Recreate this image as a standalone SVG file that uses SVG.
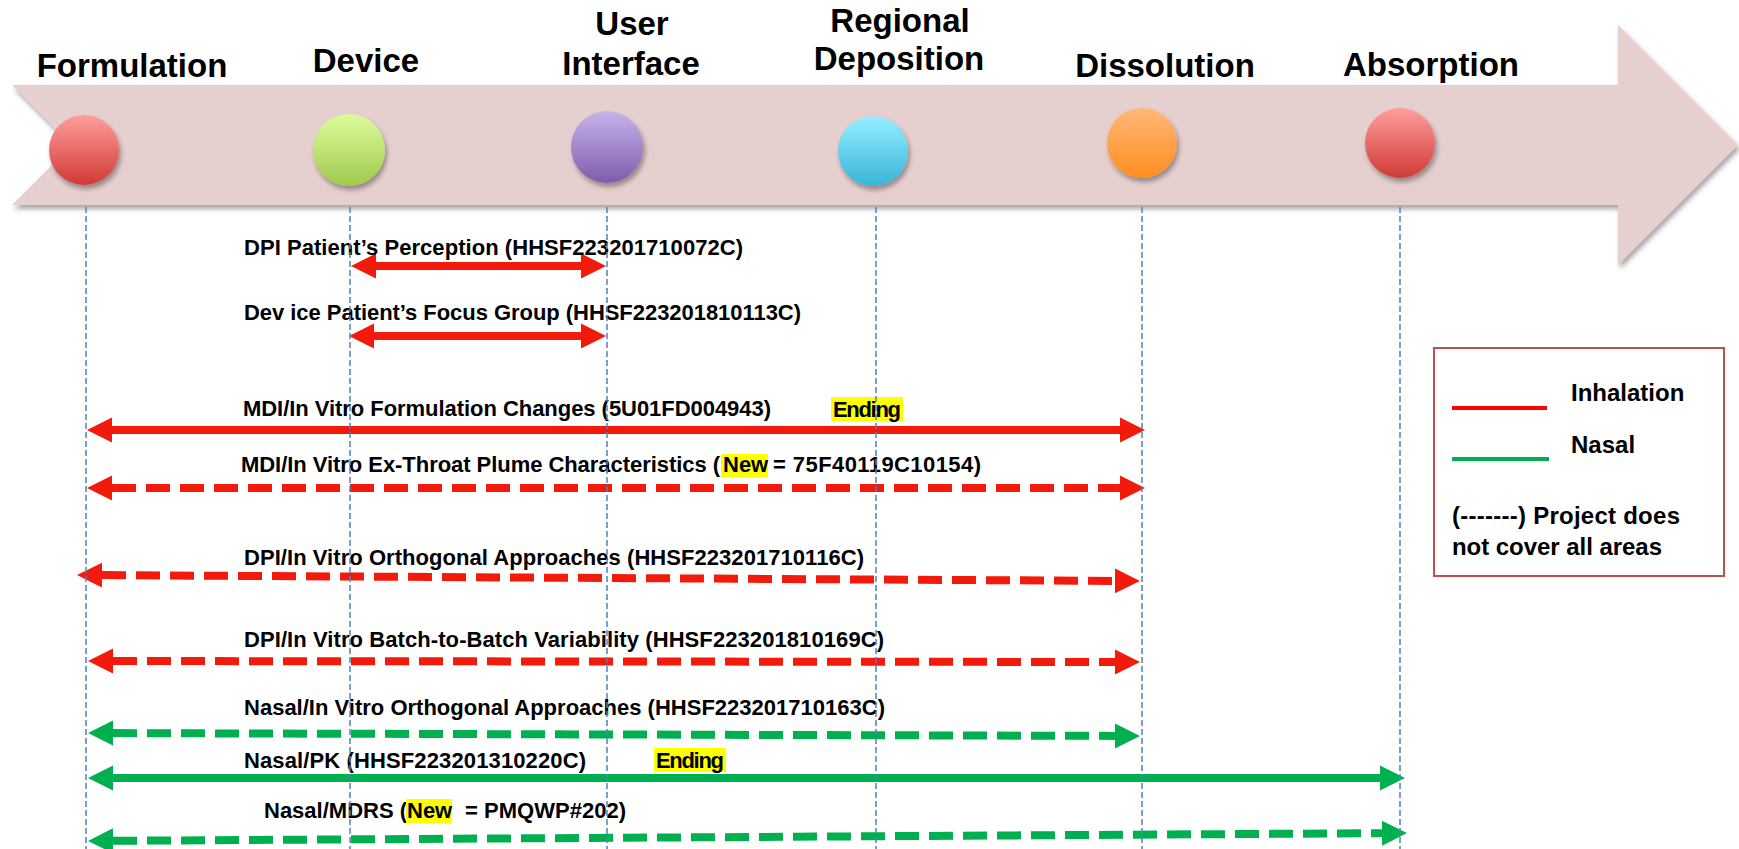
<svg xmlns="http://www.w3.org/2000/svg" width="1739" height="849" viewBox="0 0 1739 849">
<style>
.lbl{font-family:"Liberation Sans",Arial,sans-serif;font-weight:bold;font-size:33px;fill:#000;text-anchor:middle}
.t{font-family:"Liberation Sans",Arial,sans-serif;font-weight:bold;font-size:22px;fill:#000}
.lg{font-family:"Liberation Sans",Arial,sans-serif;font-weight:bold;font-size:24px;fill:#000}
.red{stroke:#F21A0B;stroke-width:8;fill:none}
.grn{stroke:#00B050;stroke-width:8;fill:none}
.dash{stroke-dasharray:24 10}
.vl{stroke:#4F81BD;stroke-width:1.5;stroke-dasharray:6 3}
.hl{fill:#FFFF00}
</style>
<defs>
<filter id="sh" x="-10%" y="-20%" width="120%" height="150%">
<feDropShadow dx="2" dy="4" stdDeviation="2.5" flood-color="#000" flood-opacity="0.35"/>
</filter>
<marker id="ar" markerUnits="userSpaceOnUse" markerWidth="26" markerHeight="26" refX="0" refY="12.5" orient="auto-start-reverse" viewBox="0 0 26 25">
<path d="M0,0 L25,12.5 L0,25 z" fill="#F21A0B"/>
</marker>
<marker id="ag" markerUnits="userSpaceOnUse" markerWidth="26" markerHeight="26" refX="0" refY="12.5" orient="auto-start-reverse" viewBox="0 0 26 25">
<path d="M0,0 L25,12.5 L0,25 z" fill="#00B050"/>
</marker>
<linearGradient id="gRed" x1="0" y1="0" x2="0" y2="1"><stop offset="0" stop-color="#FF9E9B"/><stop offset="1" stop-color="#D03A35"/></linearGradient>
<linearGradient id="gGrn" x1="0" y1="0" x2="0" y2="1"><stop offset="0" stop-color="#DCFC9C"/><stop offset="1" stop-color="#A0C94C"/></linearGradient>
<linearGradient id="gPur" x1="0" y1="0" x2="0" y2="1"><stop offset="0" stop-color="#C8B3EA"/><stop offset="1" stop-color="#7E5CAC"/></linearGradient>
<linearGradient id="gCya" x1="0" y1="0" x2="0" y2="1"><stop offset="0" stop-color="#96EFFF"/><stop offset="1" stop-color="#37B5D9"/></linearGradient>
<linearGradient id="gOra" x1="0" y1="0" x2="0" y2="1"><stop offset="0" stop-color="#FFB878"/><stop offset="1" stop-color="#FF8D1F"/></linearGradient>
</defs>
<rect width="1739" height="849" fill="#fff"/>
<polygon id="timeline" points="12,85 1618,85 1618,25 1738,145 1618,265 1618,205 12,205 72,145" fill="#E6CFCF" filter="url(#sh)"/>

<g id="formulation">
<circle cx="84" cy="150" r="35" fill="url(#gRed)" filter="url(#sh)"/>
<text class="lbl" x="132" y="77">Formulation</text>
</g>
<g id="device">
<circle cx="349" cy="150" r="36" fill="url(#gGrn)" filter="url(#sh)"/>
<text class="lbl" x="366" y="72">Device</text>
</g>
<g id="user-interface">
<circle cx="607" cy="147" r="36" fill="url(#gPur)" filter="url(#sh)"/>
<text class="lbl" x="632" y="35">User</text>
<text class="lbl" x="631" y="75">Interface</text>
</g>
<g id="regional-deposition">
<circle cx="873" cy="151" r="35" fill="url(#gCya)" filter="url(#sh)"/>
<text class="lbl" x="900" y="32">Regional</text>
<text class="lbl" x="899" y="70">Deposition</text>
</g>
<g id="dissolution">
<circle cx="1142" cy="143" r="35" fill="url(#gOra)" filter="url(#sh)"/>
<text class="lbl" x="1165" y="77">Dissolution</text>
</g>
<g id="absorption">
<circle cx="1400" cy="143" r="35" fill="url(#gRed)" filter="url(#sh)"/>
<text class="lbl" x="1431" y="76">Absorption</text>
</g>

<g id="connectors">
<line class="red" x1="376" y1="266" x2="581" y2="266" marker-start="url(#ar)" marker-end="url(#ar)"/>
<line class="red" x1="374" y1="336" x2="581" y2="336" marker-start="url(#ar)" marker-end="url(#ar)"/>
<line class="red" x1="112" y1="430" x2="1120" y2="430" marker-start="url(#ar)" marker-end="url(#ar)"/>
<line class="red dash" x1="112" y1="488" x2="1120" y2="488" marker-start="url(#ar)" marker-end="url(#ar)"/>
<line class="red dash" x1="102" y1="575.1" x2="1115" y2="580.9" marker-start="url(#ar)" marker-end="url(#ar)"/>
<line class="red dash" x1="113" y1="661" x2="1115" y2="662" marker-start="url(#ar)" marker-end="url(#ar)"/>
<line class="grn dash" x1="113" y1="733.1" x2="1115" y2="735.9" marker-start="url(#ag)" marker-end="url(#ag)"/>
<line class="grn" x1="113" y1="778" x2="1380" y2="778" marker-start="url(#ag)" marker-end="url(#ag)"/>
<line class="grn dash" x1="113" y1="840.8" x2="1382" y2="833.2" marker-start="url(#ag)" marker-end="url(#ag)"/>
</g>

<g id="labels">
<text class="t" x="244" y="255" textLength="499">DPI Patient’s Perception (HHSF223201710072C)</text>
<text class="t" x="244" y="320" textLength="557">Dev ice Patient’s Focus Group (HHSF223201810113C)</text>
<text class="t" x="243" y="416" textLength="528">MDI/In Vitro Formulation Changes (5U01FD004943)</text>
<rect class="hl" x="831" y="397" width="72" height="24"/>
<text class="t" x="833" y="417" textLength="68">Ending</text>
<text class="t" x="241" y="472" textLength="479">MDI/In Vitro Ex-Throat Plume Characteristics (</text>
<rect class="hl" x="721" y="454" width="47" height="23"/>
<text class="t" x="723" y="472">New</text>
<text class="t" x="773" y="472" textLength="208">= 75F40119C10154)</text>
<text class="t" x="244" y="565" textLength="620">DPI/In Vitro Orthogonal Approaches (HHSF223201710116C)</text>
<text class="t" x="244" y="647" textLength="640">DPI/In Vitro Batch-to-Batch Variability (HHSF223201810169C)</text>
<text class="t" x="244" y="715" textLength="641">Nasal/In Vitro Orthogonal Approaches (HHSF223201710163C)</text>
<text class="t" x="244" y="768" textLength="342">Nasal/PK (HHSF223201310220C)</text>
<rect class="hl" x="654" y="748" width="72" height="24"/>
<text class="t" x="656" y="768" textLength="68">Ending</text>
<text class="t" x="264" y="818">Nasal/MDRS (</text>
<rect class="hl" x="406" y="799" width="46" height="24"/>
<text class="t" x="407" y="818">New</text>
<text class="t" x="465" y="818" textLength="161">= PMQWP#202)</text>
</g>

<g id="guides">
<line class="vl" x1="86" y1="207" x2="86" y2="849"/>
<line class="vl" x1="350" y1="207" x2="350" y2="849"/>
<line class="vl" x1="607" y1="207" x2="607" y2="849"/>
<line class="vl" x1="876" y1="207" x2="876" y2="849"/>
<line class="vl" x1="1142" y1="207" x2="1142" y2="849"/>
<line class="vl" x1="1400" y1="207" x2="1400" y2="849"/>
</g>

<g id="legend">
<rect x="1434" y="348" width="290" height="228" fill="#fff" stroke="#C0504D" stroke-width="2"/>
<line x1="1452" y1="408" x2="1547" y2="408" stroke="#FF0000" stroke-width="4"/>
<line x1="1452" y1="459" x2="1549" y2="459" stroke="#00B050" stroke-width="4"/>
<text class="lg" x="1571" y="401">Inhalation</text>
<text class="lg" x="1571" y="453">Nasal</text>
<text class="lg" x="1452" y="524" textLength="228">(-------) Project does</text>
<text class="lg" x="1452" y="555" textLength="210">not cover all areas</text>
</g>
</svg>
